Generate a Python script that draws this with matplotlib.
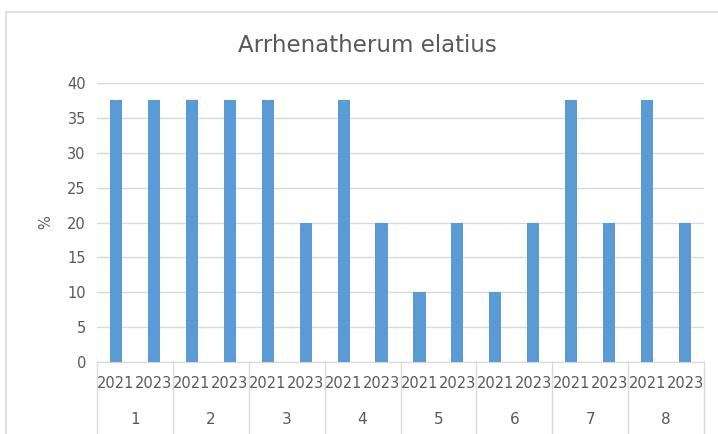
import matplotlib.pyplot as plt
from matplotlib.lines import Line2D
from matplotlib.patches import Rectangle

plt.rcParams['font.family'] = ['Liberation Sans Narrow', 'DejaVu Sans']

groups = ['1', '2', '3', '4', '5', '6', '7', '8']
years = ['2021', '2023']
values = [37.5, 37.5, 37.5, 37.5, 37.5, 20, 37.5, 20,
          10, 20, 10, 20, 37.5, 20, 37.5, 20]

text_col = '#595959'
grid_col = '#d9d9d9'

fig = plt.figure(figsize=(7.18, 4.34), dpi=100)
ax = fig.add_axes([97 / 718, 1 - 362 / 434, 607 / 718, 279 / 434])

n = len(values)
x = list(range(n))
ax.bar(x, values, width=0.32, color='#5b9bd5', zorder=3)

ax.set_xlim(-0.5, n - 0.5)
ax.set_ylim(0, 40)
ax.set_yticks(range(0, 41, 5))
ax.grid(axis='y', color=grid_col, linewidth=1, zorder=0)
for s in ['top', 'right', 'left']:
    ax.spines[s].set_visible(False)
ax.spines['bottom'].set_color(grid_col)
ax.tick_params(axis='y', length=0, labelsize=10.5, labelcolor=text_col, pad=8)
ax.tick_params(axis='x', length=0, labelsize=10.5, labelcolor=text_col, pad=10)
ax.set_xticks(x)
ax.set_xticklabels(years * len(groups))
ax.set_ylabel('%', fontsize=10.5, color=text_col, labelpad=10)

# group labels and separators
trans = ax.get_xaxis_transform()
for i, g in enumerate(groups):
    ax.text(2 * i + 0.5, -0.205, g, transform=trans, ha='center', va='center',
            fontsize=11, color=text_col)
for i in range(len(groups) + 1):
    xb = 2 * i - 0.5
    ax.add_line(Line2D([xb, xb], [0, -0.26], transform=trans, color=grid_col,
                       linewidth=1, clip_on=False))

fig.text(367 / 718, 1 - 45 / 434, 'Arrhenatherum elatius', fontsize=16.5,
         color=text_col, ha='center', va='center')

# chart border
fig.add_artist(Rectangle((6 / 718, -0.1), 1.2, 1 - 11.5 / 434 + 0.1,
                         transform=fig.transFigure, fill=False,
                         edgecolor=grid_col, linewidth=1.2))

fig.savefig('out.png', dpi=100)
